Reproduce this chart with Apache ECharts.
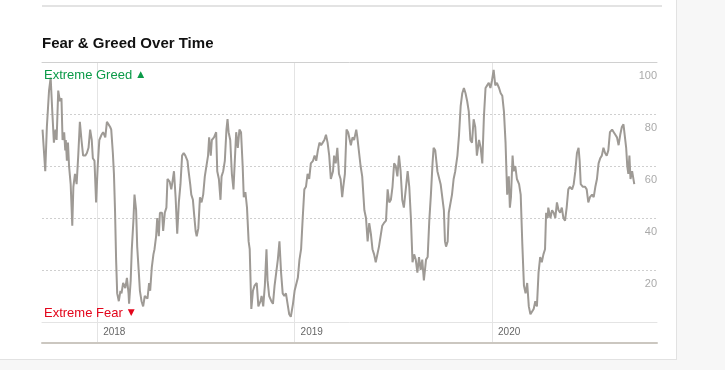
<!DOCTYPE html>
<html><head><meta charset="utf-8">
<script src="https://cdn.jsdelivr.net/npm/echarts@6/dist/echarts.min.js"></script>
<style>
html,body{margin:0;padding:0;width:725px;height:370px;overflow:hidden;background:#f7f7f7;}
#card{position:absolute;left:0;top:0;width:676px;height:359px;background:#fff;border-right:1px solid #e2e2e2;border-bottom:1px solid #e2e2e2;}
#rule{position:absolute;left:42px;top:5px;width:620px;height:2px;background:#e3e3e3;}
#chart{position:absolute;left:0;top:0;width:725px;height:370px;}
</style></head>
<body><div id="card"></div><div id="rule"></div><div id="chart"></div>
<script>
const startDate = '2017-09-21';
const endDate = '2020-11-01';
const yearTicks = ['2018-01-01', '2019-01-01', '2020-01-01'];
const yTicks = [0, 20, 40, 60, 80, 100];

// days after startDate
const dayOffsets = [
1,6,9,13,16,19,22,25,27,30,33,36,38,41,43,44,46,48,50,53,56,58,61,64,67,70,73,76,80,83,86,89,92,94,97,100,103,106,110,113,117,120,123,126,128,131,133,135,137,139,142,145,147,150,154,157,160,161,164,166,169,171,174,176,179,181,
184,187,190,195,198,200,203,206,208,211,213,216,218,222,224,227,230,232,236,239,242,244,247,250,253,256,259,262,265,269,271,274,276,279,281,284,286,289,292,295,298,301,304,307,309,312,314,318,322,324,327,330,332,335,338,341,343,345,348,351,354,356,359,362,
365,368,371,373,376,379,382,384,387,390,393,397,400,404,406,409,412,415,417,420,424,427,430,433,436,439,442,445,448,451,454,457,460,464,467,470,473,476,479,482,485,488,491,494,497,501,504,507,510,513,516,519,522,525,528,531,534,538,540,
543,546,549,552,555,557,560,563,566,568,571,574,577,581,583,586,589,592,596,599,602,605,608,611,614,617,620,623,626,629,632,636,639,642,645,648,651,654,657,660,663,666,669,673,676,679,682,685,688,691,694,697,700,703,706,710,713,716,719,722,724,
727,731,734,737,740,743,745,747,750,752,755,758,761,764,768,771,774,777,780,783,786,789,792,795,798,801,804,808,811,814,817,820,823,826,829,832,835,838,841,845,848,851,854,857,860,863,865,867,870,872,875,878,882,885,888,891,894,897,900,903,
906,909,912,915,918,921,924,927,930,932,935,936,940,943,946,949,952,955,958,961,964,967,970,973,976,980,983,986,989,992,994,996,1000,1004,1007,1010,1013,1017,1020,1023,1026,1029,1032,1035,1038,1041,1044,1047,1050,1054,1057,1060,1063,1066,1069,1072,1075,1078,1080,1082,1084,1086,1088,1091,1093,1095
];

const fgValues = [
74,58,75,89,94,81,69,74,70,89,85,86,70,73,66,70,62,69,60,53,37,52,57,53,64,77,70,64,64,65,67,74,70,63,62,46,60,70,72,73,71,77,76,75,74,65,57,43,24,11,8,12,11,15,13,17,11,7,16,28,39,49,43,29,19,12,
8,6,10,9,15,12,21,26,28,33,40,33,42,42,35,42,44,55,54,51,55,58,48,34,46,53,64,65,64,62,58,53,49,47,42,35,33,36,48,46,49,56,56,64,71,64,70,71,73,58,55,47,56,58,62,74,78,73,70,57,51,60,73,67,
74,73,60,48,50,44,31,28,5,12,14,15,6,8,10,6,14,28,16,10,8,7,14,19,24,31,19,11,10,11,7,3,2,7,12,12,17,24,28,40,51,52,57,55,61,62,64,62,66,69,68,69,70,72,69,64,55,58,64,
61,67,57,55,48,52,57,74,73,73,68,71,70,74,71,71,60,56,43,40,31,38,34,28,26,23,23,29,33,37,38,39,51,46,47,52,61,60,56,64,58,47,44,52,58,52,40,23,26,24,19,25,20,24,16,24,25,39,49,61,67,
66,58,58,53,53,43,31,29,31,42,42,49,55,58,64,72,83,88,90,88,85,81,70,69,78,75,64,70,67,61,79,90,91,92,90,93,97,91,92,90,88,87,81,69,49,56,44,48,64,58,60,55,53,49,30,14,11,15,6,3,
3,5,8,6,19,25,23,26,28,42,40,44,40,43,42,40,46,43,42,44,40,39,44,51,52,51,53,58,65,67,62,53,52,52,51,46,48,49,48,52,55,61,63,64,67,65,64,66,73,74,73,72,71,68,72,75,76,76,67,60,57,64,55,58,58,53
];

const DAY = 86400000;
const base = Date.parse(startDate);
const xMin = 0, xMax = Math.round((Date.parse(endDate) - base) / DAY);
const seriesData = dayOffsets.map((d, i) => [d, fgValues[i]]);
const tickDays = yearTicks.map(s => Math.round((Date.parse(s) - base) / DAY));
const yearOf = d => String(new Date(base + d * DAY).getUTCFullYear());

const FONT = 'Liberation Sans, Arial, sans-serif';
const GREEN = '#0b9a48', RED = '#e3051b';
const chart = echarts.init(document.getElementById('chart'), null, {renderer: 'canvas'});
const option = {
  animation: false,
  backgroundColor: 'transparent',
  title: [
    {text: 'Fear & Greed Over Time', left: 42, top: 36, padding: 0,
     textStyle: {fontFamily: FONT, fontSize: 15, fontWeight: 'bold', color: '#111'}},
    {text: '{t|Extreme Greed} {a|▲}', left: 44, top: 66, padding: 0,
     textStyle: {fontWeight: 'normal', rich: {
       t: {fontFamily: FONT, fontSize: 13, fontWeight: 'normal', color: GREEN},
       a: {fontFamily: 'DejaVu Sans', fontSize: 9, fontWeight: 'normal', color: GREEN}}}},
    {text: '{t|Extreme Fear} {a|▼}', left: 44, top: 304, padding: 0,
     textStyle: {fontWeight: 'normal', rich: {
       t: {fontFamily: FONT, fontSize: 13, fontWeight: 'normal', color: RED},
       a: {fontFamily: 'DejaVu Sans', fontSize: 9, fontWeight: 'normal', color: RED}}}}
  ],
  grid: {left: 42, right: 68, top: 62, bottom: 48},
  xAxis: [
    {type: 'value', min: xMin, max: xMax, z: 1,
     axisLine: {show: true, lineStyle: {color: '#e4e4e4', width: 1}},
     axisTick: {show: true, length: 21, customValues: tickDays, lineStyle: {color: '#e4e4e4', width: 1}},
     axisLabel: {customValues: tickDays, formatter: v => yearOf(v),
                 color: '#666', fontSize: 10, fontFamily: FONT, align: 'left', padding: [0, 0, 0, 6], margin: 5},
     splitLine: {show: true, lineStyle: {color: '#e4e4e4', width: 1}}},
    {type: 'value', min: xMin, max: xMax, position: 'bottom', offset: 21, z: 3,
     axisLine: {show: true, lineStyle: {color: '#cbc7c0', width: 2}},
     axisTick: {show: false}, axisLabel: {show: false}, splitLine: {show: false}},
    {type: 'value', min: xMin, max: xMax, position: 'top', z: 3,
     axisLine: {show: true, lineStyle: {color: '#d0d0d0', width: 1}},
     axisTick: {show: false}, axisLabel: {show: false}, splitLine: {show: false}}
  ],
  yAxis: {type: 'value', position: 'right', min: yTicks[0], max: yTicks[yTicks.length - 1], interval: 20,
    axisLine: {show: false}, axisTick: {show: false},
    axisLabel: {inside: true, margin: 0, color: '#aaa', fontSize: 11, fontFamily: FONT,
                verticalAlign: 'top', padding: [8, 0, 0, 0], formatter: v => (v === 0 ? '' : String(v))},
    splitLine: {show: true, lineStyle: {type: [2, 2], color: '#cfcfcf', width: 1}}},
  series: [{type: 'line', xAxisIndex: 0, data: seriesData, symbol: 'none', showSymbol: false,
            lineStyle: {color: '#9e9a95', width: 2}, z: 2}]
};
chart.setOption(option);
</script>
</body></html>
